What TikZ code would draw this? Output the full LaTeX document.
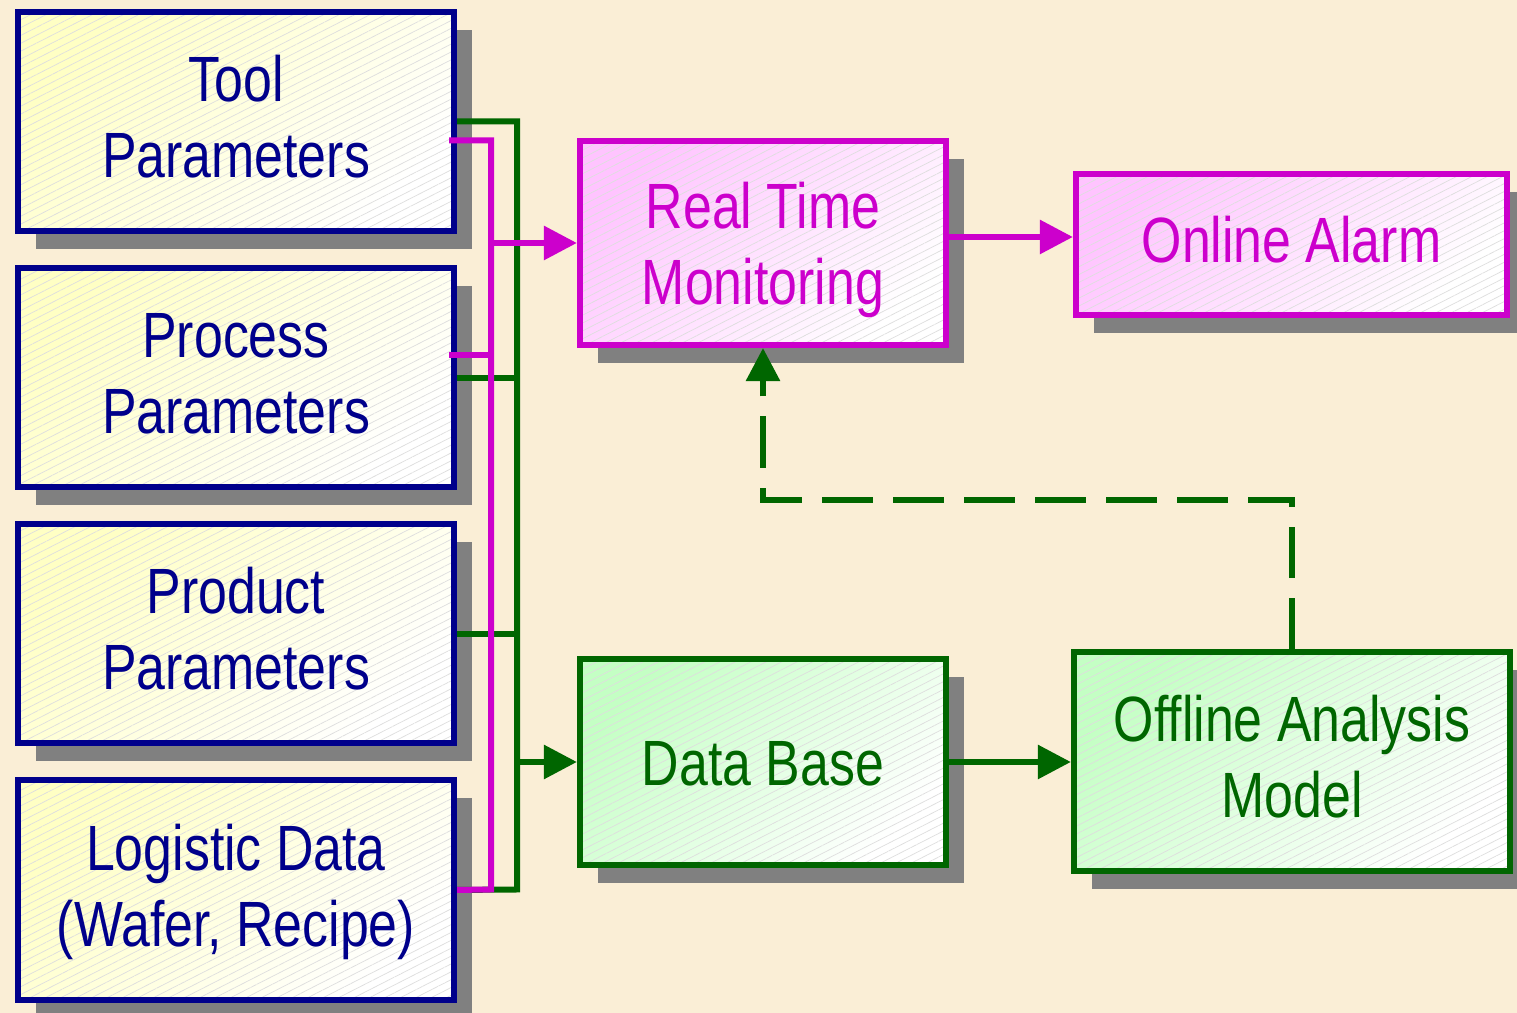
\documentclass[tikz,border=0pt]{standalone}
\usepackage{fontspec}
\setmainfont[FakeStretch=0.81]{Liberation Sans}
\usetikzlibrary{calc,positioning,arrows.meta,shadows,patterns.meta}

\definecolor{paper}{RGB}{250,238,214}
\definecolor{shadowgray}{RGB}{128,128,128}
\definecolor{srcblue}{RGB}{0,0,139}
\definecolor{srcfill}{RGB}{255,255,196}
\definecolor{monmagenta}{RGB}{204,0,204}
\definecolor{monfill}{RGB}{255,196,255}
\definecolor{dbgreen}{RGB}{0,102,0}
\definecolor{dbfill}{RGB}{196,255,196}

\tikzset{
  box/.style={outer sep=0.03cm, align=center, text=#1, text height=1.222cm, text depth=0.1cm,
    drop shadow={shadow xshift=0.18cm, shadow yshift=-0.18cm, fill=shadowgray, opacity=1},
    postaction={pattern color=black!13, pattern={Lines[angle=27,distance=0.07cm,line width=0.2pt]}},
    postaction={draw=#1, line width=0.06cm}},
  srcbox/.style={box=srcblue, top color=srcfill, bottom color=white, shading angle=45,
    minimum width=4.36cm, minimum height=2.19cm},
  monbox/.style={box=monmagenta, top color=monfill, bottom color=white, shading angle=45},
  dbbox/.style={box=dbgreen, top color=dbfill, bottom color=white, shading angle=45},
  gline/.style={draw=dbgreen, line width=0.06cm},
  mline/.style={draw=monmagenta, line width=0.06cm},
}

\begin{document}
\begin{tikzpicture}[x=0.01cm, y=-0.01cm, >={Triangle[length=0.33cm,width=0.33cm]},
                    font=\fontsize{18.2}{21.6}\selectfont]
\fill[paper] (0,0) rectangle (1517,1013);
\useasboundingbox (0,0) rectangle (1517,1013);

\node[srcbox] (tool) at (236,121.5) {Tool\\Parameters};
\node[srcbox, below=0.31cm of tool] (process) {Process\\Parameters};
\node[srcbox, below=0.31cm of process] (product) {Product\\Parameters};
\node[srcbox, below=0.31cm of product] (logistic) {Logistic Data\\(Wafer, Recipe)};

\node[monbox, minimum width=3.66cm, minimum height=2.04cm, text depth=0pt] (rtm) at (763,243) {Real Time\\Monitoring};
\node[monbox, minimum width=4.31cm, minimum height=1.41cm, text height=0.46cm] (alarm) at (1291.5,244.5) {Online Alarm};
\node[dbbox, minimum width=3.66cm, minimum height=2.06cm, text height=0.46cm, text depth=0pt] (db) at (763,762) {Data Base};
\node[dbbox, minimum width=4.36cm, minimum height=2.19cm] (offline) at (1292,761.5) {Offline Analysis\\Model};

\coordinate (gbot) at (517,889.5);
\coordinate (mbot) at (491,889.5);
\coordinate (dturn) at (1000,500);

\draw[gline] (tool.east) -| (gbot) -- (logistic.east);
\draw[gline] (process.east) -- (process.east -| gbot);
\draw[gline] (product.east) -- (product.east -| gbot);
\draw[gline,->] (gbot |- db.west) -- (db.west);

\draw[mline] ($(tool.east)+(-8,19)$) -| (mbot) -- (logistic.east);
\draw[mline] ($(process.east)+(-8,-23)$) coordinate (mp) -- (mp -| mbot);
\draw[mline,->] (mbot |- rtm.west) -- (rtm.west);
\draw[mline,->] ($(rtm.east)+(0,-6)$) coordinate (ra) -- (ra -| alarm.west);

\draw[gline,->] (db.east) -- (db.east -| offline.west);
\draw[gline,dash pattern=on 0.51cm off 0.2cm,->] (offline.north) |- (dturn) -| (rtm.south);
\end{tikzpicture}
\end{document}
